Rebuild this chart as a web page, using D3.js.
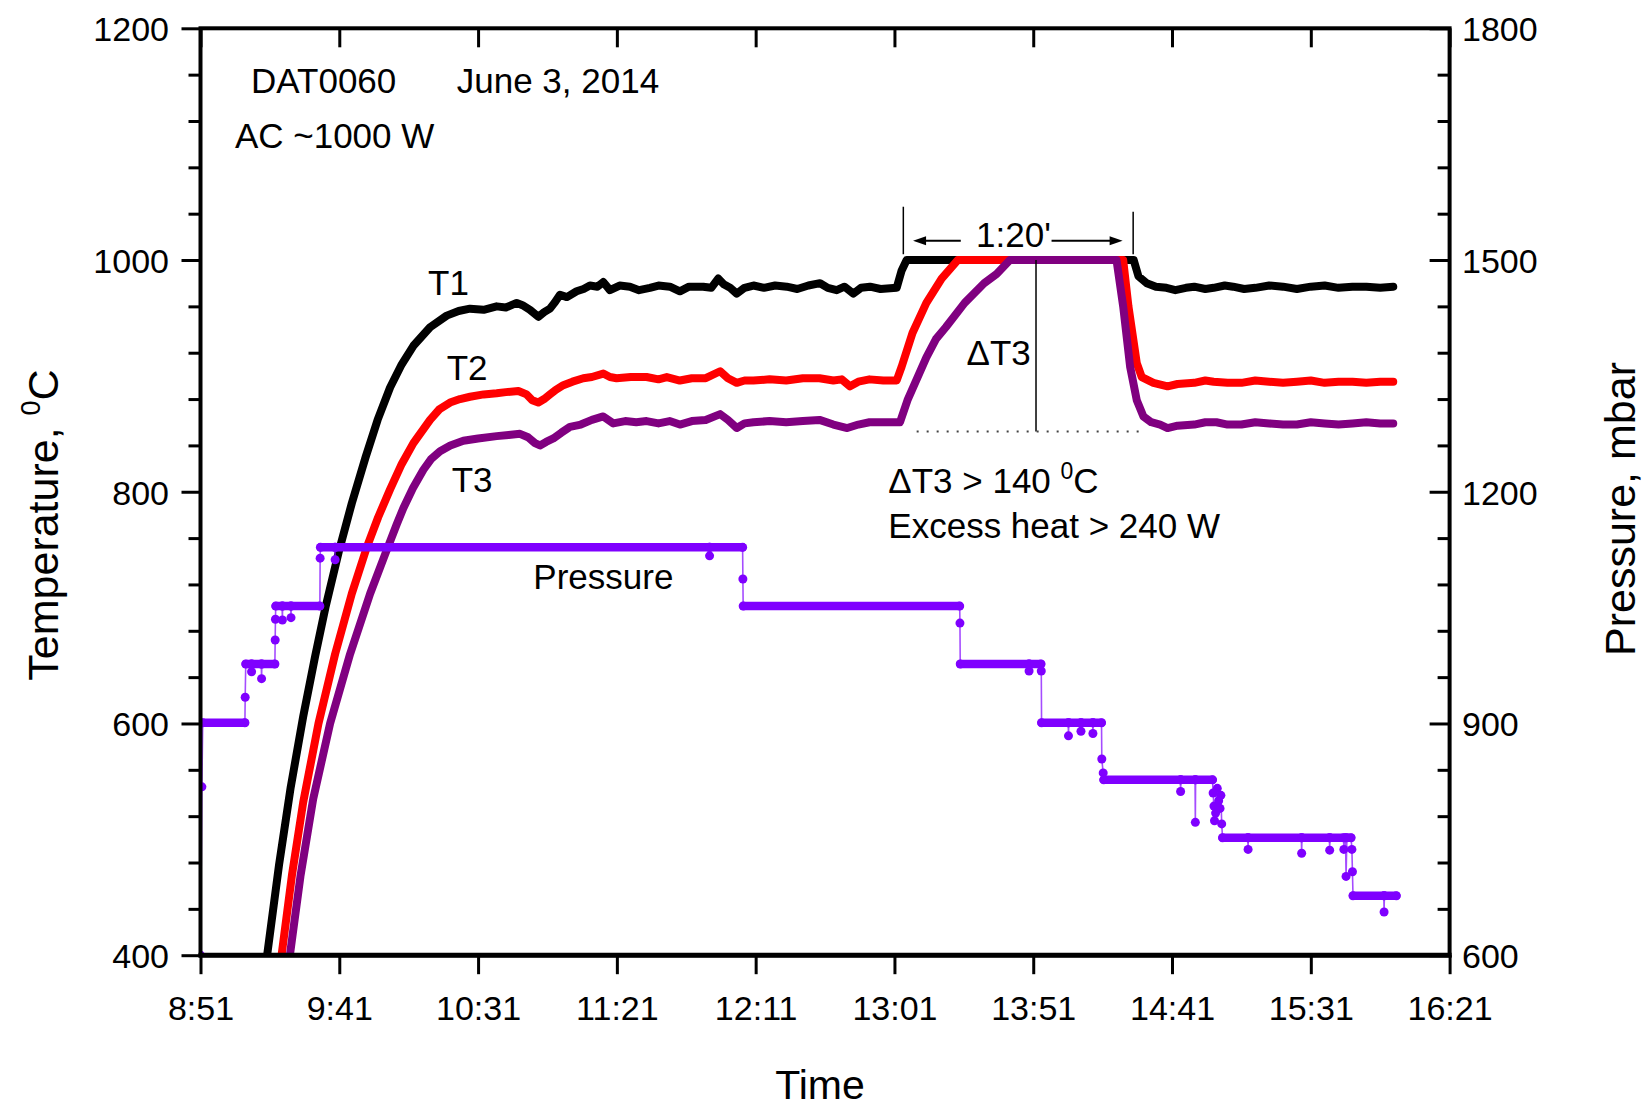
<!DOCTYPE html>
<html>
<head>
<meta charset="utf-8">
<script src="https://cdn.jsdelivr.net/npm/d3@7"></script>
<style>
  body { margin: 0; background: #fff; }
  svg { font-family: "Liberation Sans", Arial, sans-serif; }
</style>
</head>
<body>
<div id="chart"></div>
<script>
// time is in minutes after 8:51
var timeTicks = [0, 50, 100, 150, 200, 250, 300, 350, 400, 450];
var timeLabels = ["8:51", "9:41", "10:31", "11:21", "12:11", "13:01", "13:51", "14:41", "15:31", "16:21"];
var tempTicks = [400, 600, 800, 1000, 1200];
var pressTicks = [600, 900, 1200, 1500, 1800];

// T1 [time, degC]
var t1Data = [[24,400],[28.3,478],[32.5,545],[37,606],[41.3,658],[45,700],[50,750],[54.5,790],[59.5,830],
  [63.8,862],[68.3,890],[72.5,910],[76.7,926],[82.7,942],[88.7,952],[93,956],[97.1,958],[102,957],
  [106.7,960],[110,959],[113.9,963],[116,961],[118.7,957],[121.7,951],[123.8,955],[125.9,958],[127.5,963],
  [129.5,970],[132,968],[135.5,973],[138,975],[140.3,978],[143,977],[145.1,981],[147.5,974],[151,978],
  [154.7,977],[158,974],[161.9,976],[165,978],[169.1,977],[172.7,973],[176,977],[181.1,977],[184,976],
  [186.5,984],[188.5,979],[190.8,976],[193.2,971],[196,976],[199.2,978],[203,976],[207,978],[211.2,977],
  [215,975],[219,978],[223.2,980],[226,976],[229.2,974],[232,977],[235.2,971],[238,976],[241.2,977],
  [245,975],[250.8,976],[252.6,991],[254.4,1000],[336.2,1000],[337.9,986],[340.9,980],[344.2,977],
  [348,976],[351.2,974],[355,976],[358,977],[362,975],[365,976],[369,978],[372,977],[376,975],[380,976],
  [385,978],[390,977],[395,975],[400,977],[405,978],[410,976],[415,977],[420,977],[425,976],[429.7,977]];

// T2 [time, degC]
var t2Data = [[29.2,400],[33,470],[37,532],[42.5,600],[48.5,660],[54.5,712],[59.9,752],[64,778],
  [68.3,802],[72.5,824],[76.7,842],[82.7,862],[86,871],[89.9,877],[93.5,880],[97.1,882],[102,884],
  [106.7,885],[110,886],[114.5,887],[117.5,884],[119.5,879],[121.7,877],[123.8,880],[125.9,884],[128,888],
  [130.7,892],[134,895],[137.9,898],[141,899],[145.1,902],[147.5,899],[149.9,898],[155,899],[160.7,899],
  [165,897],[168,899],[172.7,896],[177,898],[182,898],[187.2,904],[190,898],[193.2,894],[196,896],
  [199.2,896],[205,897],[211,896],[217,898],[223,898],[228,896],[231,897],[234,891],[237,895],[241,897],
  [246,896],[250.8,896],[252.6,908],[256.5,937],[261.5,963],[267,984],[272.8,1000],[332.4,1000],
  [334.3,960],[337.3,911],[339.1,899],[343.3,894],[348.4,891],[352,893],[358,894],[362,896],[365,895],
  [370,894],[375,894],[380,896],[385,895],[390,894],[395,895],[400,896],[405,894],[410,895],[415,895],
  [420,894],[425,895],[429.7,895]];

// T3 [time, degC]
var t3Data = [[32.2,400],[36,468],[40.6,535],[46.7,600],[53.9,660],[61.1,712],[66.5,746],[70.7,772],
  [73.1,786],[76.5,803],[80.3,819],[83,828],[86.3,835],[90,840],[94.7,844],[100,846],[106.7,848],
  [111,849],[115.1,850],[118,847],[120.5,842],[122.3,840],[124.5,843],[127.1,846],[130,851],[133.1,856],
  [137,858],[141,862],[145.1,865],[148.7,859],[153,861],[157,860],[160.7,861],[165,859],[169,861],
  [172.7,858],[177,861],[182,862],[187.2,867],[190,862],[193.2,855],[196,859],[199.2,860],[205,861],
  [211,860],[217,861],[223,862],[228,858],[233,855],[237,858],[241,860],[246,860],[252,860],[254.7,879],
  [261.5,916],[265,932],[268.5,942],[275.3,963],[282.3,980],[286.8,988],[291.6,1000],[330,1000],
  [332.4,960],[334.9,908],[337.3,879],[339.7,865],[342.5,860],[345.7,858],[348.4,855],[352,857],
  [358,858],[362,860],[366,860],[370,858],[375,858],[380,860],[385,859],[390,858],[395,858],[400,860],
  [405,859],[410,858],[415,859],[420,860],[425,859],[429.7,859]];

// pressure readings [time, mbar]
var pressData = [[0,600],[0.5,818],[0.8,901],[16,901],[16.1,934],[16.3,977],[18.3,977],[18.4,967],
  [18.5,977],[21.9,977],[22,958],[22.1,977],[26.8,977],[26.9,1008],[27,1035],[27.1,1052],[29.4,1052],
  [29.5,1034],[29.6,1052],[32.5,1052],[32.6,1037],[32.7,1052],[43,1052],[43.1,1114],[43.2,1128],
  [48.4,1128],[48.5,1112],[48.6,1128],[183.3,1128],[183.4,1117],[183.5,1128],[195.3,1128],[195.4,1087],
  [195.5,1052],[273.5,1052],[273.6,1030],[273.7,977],[298.4,977],[298.5,968],[298.6,977],[302.8,977],
  [302.9,968],[303,901],[312.6,901],[312.7,884],[312.8,901],[317.1,901],[317.2,890],[317.3,901],
  [321.4,901],[321.5,887],[321.6,901],[324.6,901],[324.7,854],[325.2,836],[325.4,827],[353,827],
  [353.1,812],[353.2,827],[358.3,827],[358.4,772],[358.5,827],[364.6,827],[364.8,810],[365.1,793],
  [365.3,774],[365.7,784],[366.3,816],[366.8,800],[367.3,790],[367.6,807],[367.9,770],[368.2,752],
  [377.3,752],[377.4,737],[377.5,752],[396.6,752],[396.7,732],[396.8,752],[406.7,752],[406.8,736],
  [406.9,752],[411.8,752],[411.9,737],[412.5,752],[412.7,702],[413,752],[414.5,752],[414.8,737],
  [415,708],[415.2,677],[426.3,677],[426.4,656],[426.5,677],[430.8,677]];

// pressure plateaus [start time, end time, mbar]
var pressLevels = [[0.8,16,901],[16.3,26.8,977],[27.1,43,1052],[43.2,195.3,1128],[195.5,273.5,1052],
  [273.7,302.8,977],[303,324.6,901],[325.4,364.6,827],[368.2,414.5,752],[415.2,430.8,677]];

var svgWidth = 1646;
var svgHeight = 1110;

var margin = {
  top: 28.3,
  right: 196.4,
  bottom: 154.8,
  left: 200.5
};

var width = svgWidth - margin.left - margin.right;
var height = svgHeight - margin.top - margin.bottom;

var svg = d3.select("#chart")
  .append("svg")
  .attr("width", svgWidth)
  .attr("height", svgHeight);

var chartGroup = svg.append("g")
  .attr("transform", `translate(${margin.left}, ${margin.top})`);

svg.append("defs").append("clipPath")
  .attr("id", "plotClip")
  .append("rect")
  .attr("x", 0).attr("y", -10)
  .attr("width", width).attr("height", height + 10);

//scales
var xScale = d3.scaleLinear().domain([0, 450]).range([0, width]);
var yTemp = d3.scaleLinear().domain([400, 1200]).range([height, 0]);
var yPress = d3.scaleLinear().domain([600, 1800]).range([height, 0]);

var plot = chartGroup.append("g").attr("clip-path", "url(#plotClip)");

// temperature lines
var tempLine = d3.line()
  .x(d => xScale(d[0]))
  .y(d => yTemp(d[1]));

[[t1Data, "#000000"], [t2Data, "#ff0000"], [t3Data, "#800080"]].forEach(function (s) {
  plot.append("path")
    .datum(s[0])
    .attr("d", tempLine)
    .attr("fill", "none")
    .attr("stroke", s[1])
    .attr("stroke-width", 8)
    .attr("stroke-linejoin", "round")
    .attr("stroke-linecap", "round");
});

// pressure
var pressLine = d3.line()
  .x(d => xScale(d[0]))
  .y(d => yPress(d[1]));

plot.append("path")
  .datum(pressData)
  .attr("d", pressLine)
  .attr("fill", "none")
  .attr("stroke", "#7f00ff")
  .attr("stroke-opacity", 0.7)
  .attr("stroke-width", 1.6);

plot.selectAll(".plevel")
  .data(pressLevels)
  .enter()
  .append("line")
  .attr("x1", d => xScale(d[0]))
  .attr("x2", d => xScale(d[1]))
  .attr("y1", d => yPress(d[2]))
  .attr("y2", d => yPress(d[2]))
  .attr("stroke", "#7f00ff")
  .attr("stroke-width", 8.5)
  .attr("stroke-linecap", "round");

plot.selectAll(".pdot")
  .data(pressData)
  .enter()
  .append("circle")
  .attr("cx", d => xScale(d[0]))
  .attr("cy", d => yPress(d[1]))
  .attr("r", 4.5)
  .attr("fill", "#7f00ff");

// axes
function styleAxis(g) {
  g.select(".domain").remove();
  g.selectAll(".tick line").attr("stroke", "#000").attr("stroke-width", 3);
  g.selectAll("text").attr("fill", "#000").style("font-size", "34px");
}

var minorTemp = d3.range(440, 1200, 40).filter(v => v % 200 !== 0);
var minorPress = d3.range(660, 1800, 60).filter(v => v % 300 !== 0);

chartGroup.append("g")
  .attr("transform", `translate(0, ${height})`)
  .call(d3.axisBottom(xScale).tickValues(timeTicks).tickFormat((d, i) => timeLabels[i]).tickSize(19))
  .call(styleAxis)
  .call(g => g.selectAll("text").attr("y", 65).attr("dy", 0));

chartGroup.append("g")
  .call(d3.axisTop(xScale).tickValues(timeTicks).tickFormat("").tickSize(-19))
  .call(styleAxis);

chartGroup.append("g")
  .call(d3.axisLeft(yTemp).tickValues(tempTicks).tickFormat(d3.format("d")).tickSize(19).tickPadding(12.5))
  .call(styleAxis)
  .call(g => g.selectAll("text").attr("dy", "0.36em"));

chartGroup.append("g")
  .call(d3.axisLeft(yTemp).tickValues(minorTemp).tickFormat("").tickSize(12))
  .call(styleAxis);

chartGroup.append("g")
  .attr("transform", `translate(${width}, 0)`)
  .call(d3.axisRight(yPress).tickValues(pressTicks).tickFormat(d3.format("d")).tickSize(-20).tickPadding(12.4))
  .call(styleAxis)
  .call(g => g.selectAll("text").attr("dy", "0.36em"));

chartGroup.append("g")
  .attr("transform", `translate(${width}, 0)`)
  .call(d3.axisRight(yPress).tickValues(minorPress).tickFormat("").tickSize(-12))
  .call(styleAxis);

// frame
chartGroup.append("rect")
  .attr("width", width)
  .attr("height", height)
  .attr("fill", "none")
  .attr("stroke", "#000")
  .attr("stroke-width", 4);

chartGroup.append("line")
  .attr("x1", -2).attr("x2", width + 2)
  .attr("y1", height).attr("y2", height)
  .attr("stroke", "#000")
  .attr("stroke-width", 5);

// axis labels
svg.append("text")
  .attr("x", 820)
  .attr("y", 1099)
  .attr("text-anchor", "middle")
  .style("font-size", "41px")
  .text("Time");

var tLabel = svg.append("text")
  .attr("transform", "translate(58, 525) rotate(-90)")
  .attr("text-anchor", "middle")
  .style("font-size", "43px");
tLabel.append("tspan").text("Temperature, ");
tLabel.append("tspan").attr("dy", -18).style("font-size", "27px").text("0");
tLabel.append("tspan").attr("dy", 18).text("C");

svg.append("text")
  .attr("transform", "translate(1635, 509) rotate(-90)")
  .attr("text-anchor", "middle")
  .style("font-size", "43px")
  .text("Pressure, mbar");

// annotations
var notes = chartGroup.append("g").style("font-size", "35px").attr("fill", "#000");

function note(t, v, txt, anchor) {
  return notes.append("text")
    .attr("x", xScale(t))
    .attr("y", yTemp(v))
    .attr("text-anchor", anchor || "start")
    .text(txt);
}

note(18.2, 1144, "DAT0060");
note(92.3, 1144, "June 3, 2014");
note(12.4, 1096.7, "AC ~1000 W");
note(82, 969.8, "T1");
note(88.7, 896.4, "T2");
note(90.5, 800, "T3");
note(119.9, 716, "Pressure");
note(276, 909.4, "\u0394T3");
note(292.9, 1011.5, "1:20'", "middle");
note(247.8, 759.8, "Excess heat > 240 W");

var dNote = note(247.8, 798.6, "\u0394T3 > 140 ");
dNote.append("tspan").attr("dy", -14).style("font-size", "23px").text("0");
dNote.append("tspan").attr("dy", 14).text("C");

// 1:20' span markers
var spanTimes = [253.2, 336];
var spanTops = [1046, 1041.7];
spanTimes.forEach(function (t, i) {
  notes.append("line")
    .attr("x1", xScale(t)).attr("x2", xScale(t))
    .attr("y1", yTemp(spanTops[i])).attr("y2", yTemp(1005))
    .attr("stroke", "#000").attr("stroke-width", 1.5);
});

var arrowY = yTemp(1016.7);
var arrows = [[xScale(273.9), xScale(256.7)], [xScale(306.6), xScale(332.2)]];
arrows.forEach(function (a) {
  var dir = a[1] > a[0] ? 1 : -1;
  notes.append("line")
    .attr("x1", a[0]).attr("x2", a[1] - dir * 10)
    .attr("y1", arrowY).attr("y2", arrowY)
    .attr("stroke", "#000").attr("stroke-width", 2);
  notes.append("path")
    .attr("d", `M${a[1]},${arrowY} L${a[1] - dir * 13},${arrowY - 4.5} L${a[1] - dir * 13},${arrowY + 4.5} Z`)
    .attr("fill", "#000");
});

// delta T3 marker
notes.append("line")
  .attr("x1", xScale(301)).attr("x2", xScale(301))
  .attr("y1", yTemp(1000)).attr("y2", yTemp(852))
  .attr("stroke", "#000").attr("stroke-width", 1.5);

notes.append("line")
  .attr("x1", xScale(258)).attr("x2", xScale(339.7))
  .attr("y1", yTemp(852)).attr("y2", yTemp(852))
  .attr("stroke", "#444").attr("stroke-width", 2)
  .attr("stroke-dasharray", "2,8");
</script>
</body>
</html>
